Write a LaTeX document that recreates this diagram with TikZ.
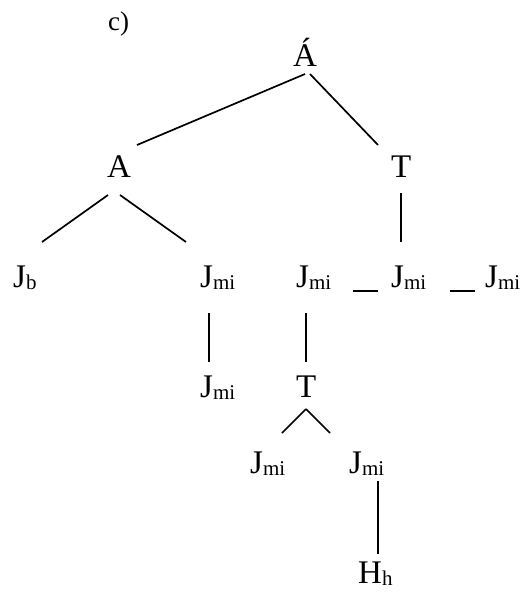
\documentclass[tikz,border=0pt]{standalone}
\usepackage{fontspec}
\setmainfont{Liberation Serif}
\usetikzlibrary{calc}
\newcommand{\lowidx}[1]{\raisebox{-2pt}{\fontsize{21}{21}\selectfont #1}}

\begin{document}
\begin{tikzpicture}[x=1pt,y=1pt,
    tn/.style={anchor=base west, inner sep=0pt, font=\fontsize{33}{39}\selectfont},
    br/.style={line width=1.7pt}]
            \useasboundingbox (0,0) rectangle (522,-592);
            % 标签
            \node[anchor=base west, inner sep=0pt, font=\fontsize{27}{31}\selectfont] (lbl) at (108,-30) {c)};
            % 第一层
            \node[tn] (root) at (293,-66) {Á};
            \node[tn] (a) at (107,-177) {A};
            \node[tn] (t) at (391,-177) {T};
            % 第二层
            \node[tn] (jb) at (13,-287) {J\lowidx{b}};
            \node[tn] (ja) at (200,-287) {J\lowidx{mi}};
            \node[tn] (jc) at (296,-287) {J\lowidx{mi}};
            \node[tn] (jd) at (391,-287) {J\lowidx{mi}};
            \node[tn] (je) at (485,-287) {J\lowidx{mi}};
            % 第三层
            \node[tn] (jf) at (200,-397) {J\lowidx{mi}};
            \node[tn] (t2) at (296,-397) {T};
            \node[tn] (jg) at (250,-473) {J\lowidx{mi}};
            \node[tn] (jh) at (349,-473) {J\lowidx{mi}};
            \node[tn] (hh) at (358,-583) {H\lowidx{h}};
            % 连线
            \draw[br] ($(root.base west)+(12,-8)$) -- ($(a.base west)+(30,32)$);
            \draw[br] ($(root.base west)+(17,-8)$) -- ($(t.base west)+(-13,32)$);
            \draw[br] ($(a.base west)+(1,-18)$) -- ($(jb.base west)+(29,45)$);
            \draw[br] ($(a.base west)+(13,-18)$) -- ($(ja.base west)+(-14,45)$);
            \draw[br] ($(t.base west)+(10,-16)$) -- ($(jd.base west)+(10,45)$);
            \draw[br] ($(ja.base west)+(9,-26)$) -- ($(jf.base west)+(9,35)$);
            \draw[br] ($(jc.base west)+(10,-26)$) -- ($(t2.base west)+(10,35)$);
            \draw[br] ($(t2.base west)+(10,-12)$) -- ($(jg.base west)+(32,40)$);
            \draw[br] ($(t2.base west)+(10,-12)$) -- ($(jh.base west)+(-19,40)$);
            \draw[br] ($(jh.base west)+(29,-8)$) -- ($(hh.base west)+(20,29)$);
            % 横线
            \draw[br] ($(jc.base west)+(57,-4)$) -- ($(jd.base west)+(-13,-4)$);
            \draw[br] ($(jd.base west)+(59,-4)$) -- ($(je.base west)+(-10,-4)$);
\end{tikzpicture}
\end{document}
